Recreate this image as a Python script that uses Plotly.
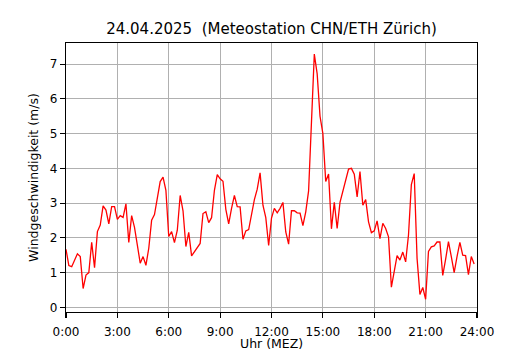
import plotly.graph_objects as go

# wind speed every 10 minutes, 0:00 .. 23:50 (m/s)
wind = [
    1.67, 1.20, 1.17, 1.36, 1.54, 1.46, 0.54, 0.93, 1.00, 1.87,
    1.14, 2.18, 2.37, 2.92, 2.80, 2.40, 2.90, 2.90, 2.53, 2.64,
    2.59, 2.98, 1.87, 2.64, 2.30, 1.79, 1.27, 1.46, 1.21, 1.70,
    2.51, 2.67, 3.18, 3.62, 3.75, 3.37, 2.04, 2.18, 1.86, 2.22,
    3.22, 2.78, 1.75, 2.16, 1.48, 1.60, 1.72, 1.84, 2.70, 2.75,
    2.44, 2.58, 3.37, 3.82, 3.70, 3.63, 2.82, 2.40, 2.85, 3.22,
    2.90, 2.89, 1.96, 2.20, 2.24, 2.68, 3.10, 3.40, 3.87, 2.94,
    2.58, 1.78, 2.57, 2.85, 2.72, 2.85, 3.02, 2.17, 1.82, 2.78,
    2.78, 2.72, 2.71, 2.35, 2.75, 3.35, 5.30, 7.29, 6.72, 5.50,
    5.00, 3.62, 3.84, 2.26, 3.02, 2.27, 3.02, 3.33, 3.66, 3.98,
    4.00, 3.83, 3.18, 3.91, 2.94, 3.10, 2.46, 2.15, 2.20, 2.49,
    1.98, 2.42, 2.27, 2.03, 0.58, 1.03, 1.49, 1.36, 1.59, 1.31,
    2.08, 3.53, 3.85, 1.41, 0.37, 0.57, 0.23, 1.61, 1.74, 1.77,
    1.88, 1.88, 0.92, 1.38, 1.89, 1.46, 1.00, 1.46, 1.87, 1.50,
    1.49, 0.94, 1.46, 1.25,
]
hours = [i / 6 for i in range(len(wind))]

x_tickvals = [0, 3, 6, 9, 12, 15, 18, 21, 24]
x_ticktext = ["0:00", "3:00", "6:00", "9:00", "12:00", "15:00", "18:00", "21:00", "24:00"]
y_tickvals = [0, 1, 2, 3, 4, 5, 6, 7]

title_text = "24.04.2025  (Meteostation CHN/ETH Zürich)"
x_title = "Uhr (MEZ)"
y_title = "Windgeschwindigkeit (m/s)"

fig = go.Figure()
fig.add_trace(go.Scatter(x=hours, y=wind, mode="lines",
                         line=dict(color="#ff0000", width=1.3),
                         hoverinfo="skip", showlegend=False))

axis_common = dict(
    showline=True, linecolor="black", linewidth=1.1, mirror=True,
    ticks="outside", ticklen=5, tickwidth=1.1, tickcolor="black",
    showgrid=True, gridcolor="#b0b0b0", gridwidth=1.1,
    zeroline=False,
    tickfont=dict(family="DejaVu Sans", size=12, color="black"),
)

plot_h = 350 - 43 - 38

fig.update_layout(
    width=530, height=350,
    margin=dict(l=66, r=53, t=43, b=38, autoexpand=False),
    paper_bgcolor="white", plot_bgcolor="white",
    font=dict(family="DejaVu Sans", color="black"),
    title=dict(text=title_text, x=0.5, xanchor="center", xref="paper",
               y=1 - 28.5 / 350, yanchor="middle", yref="container",
               font=dict(family="DejaVu Sans", size=15, color="black")),
    xaxis=dict(range=[0, 24], tickvals=x_tickvals, ticktext=x_ticktext,
               ticklabelstandoff=3, **axis_common),
    yaxis=dict(range=[-0.135, 7.61], tickvals=y_tickvals,
               title=dict(text=y_title, standoff=8,
                          font=dict(family="DejaVu Sans", size=12.5, color="black")),
               **axis_common),
    annotations=[dict(text=x_title, xref="paper", yref="paper", x=0.5,
                      y=-31.5 / plot_h, xanchor="center", yanchor="middle",
                      showarrow=False, borderpad=0,
                      font=dict(family="DejaVu Sans", size=12.5, color="black"))],
)

fig.write_html("out.html",
               config={"displayModeBar": False, "staticPlot": True},
               post_script="document.body.style.margin='0';document.body.style.overflow='hidden';")
